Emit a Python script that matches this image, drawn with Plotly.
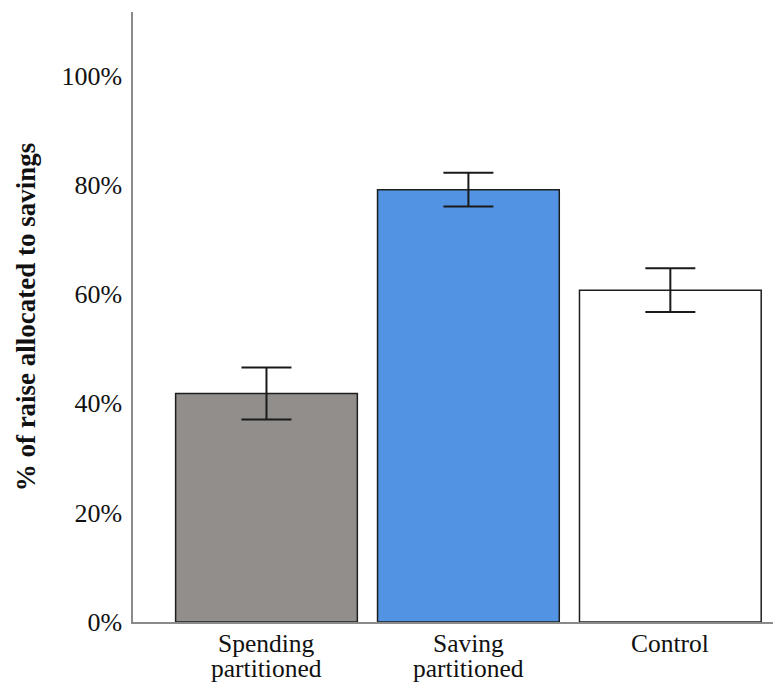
import plotly.graph_objects as go

categories = ["Spending partitioned", "Saving partitioned", "Control"]
line1 = ["Spending", "Saving", "Control"]
line2 = ["partitioned", "partitioned", ""]
values = [41.8, 79.1, 60.7]
errors = [4.75, 3.1, 4.0]
colors = ["#928e8c", "#5294e3", "#ffffff"]
ytick_vals = [0, 20, 40, 60, 80, 100]
ytick_text = ["0%", "20%", "40%", "60%", "80%", "100%"]

FONT = "Liberation Serif"

fig = go.Figure()
fig.add_trace(go.Bar(
    x=list(range(len(categories))),
    y=values,
    width=0.9,
    marker=dict(color=colors, line=dict(color="#1e1e1e", width=1.5)),
    error_y=dict(type="data", array=errors, visible=True,
                 color="#1a1a1a", thickness=2, width=25),
    showlegend=False,
))

for i, (a, b) in enumerate(zip(line1, line2)):
    fig.add_annotation(x=i, y=0, xref="x", yref="y", text=a, showarrow=False,
                       yanchor="top", yshift=-5,
                       font=dict(family=FONT, size=25.5, color="#111"))
    if b:
        fig.add_annotation(x=i, y=0, xref="x", yref="y", text=b, showarrow=False,
                           yanchor="top", yshift=-30,
                           font=dict(family=FONT, size=25.5, color="#111"))

fig.update_layout(
    width=773, height=677,
    margin=dict(l=125, r=0, t=4, b=63),
    plot_bgcolor="white", paper_bgcolor="white",
    bargap=0.1,
    xaxis=dict(range=[-0.661, 2.548], showticklabels=False, ticks="",
               showline=True, linecolor="#8a8a8a", linewidth=1.5,
               showgrid=False, zeroline=False, fixedrange=True),
    yaxis=dict(range=[0, 111.6], tickvals=ytick_vals, ticktext=ytick_text,
               ticks="outside", ticklen=4, tickcolor="rgba(0,0,0,0)",
               tickfont=dict(family=FONT, size=26, color="#111"),
               showline=True, linecolor="#8a8a8a", linewidth=1.5,
               showgrid=False, zeroline=False,
               title=dict(text="<b>% of raise allocated to savings</b>",
                          font=dict(family=FONT, size=27, color="#111"),
                          standoff=18)),
)

fig.write_html("out.html")
